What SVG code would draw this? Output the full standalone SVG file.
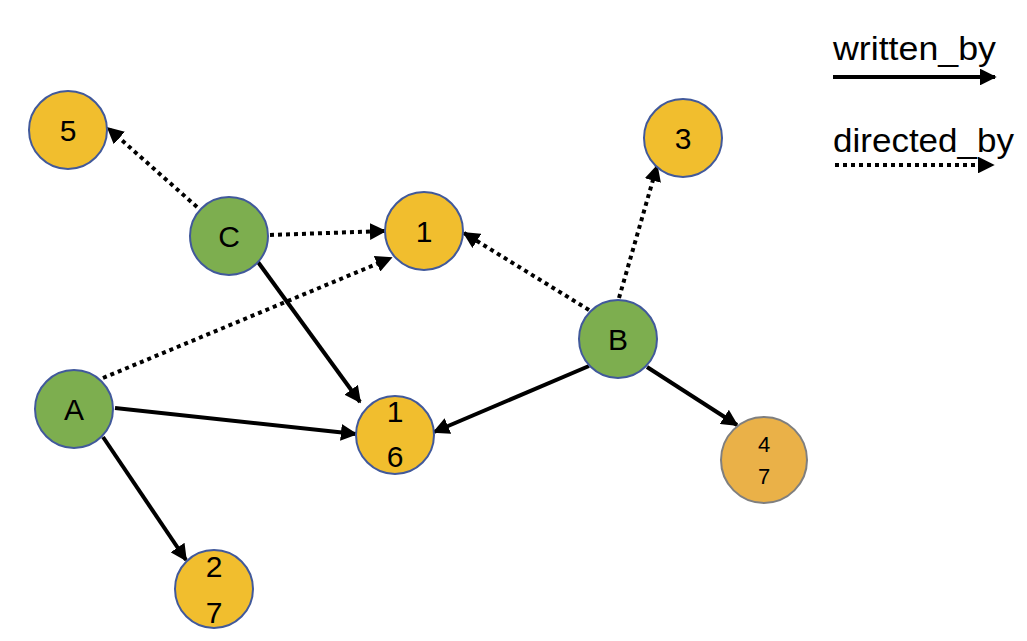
<svg xmlns="http://www.w3.org/2000/svg" width="1027" height="641" viewBox="0 0 1027 641">
<defs>
<style>
.y{fill:#F1BE2E;stroke:#41599B;stroke-width:2}
.g{fill:#7DAE4F;stroke:#41599B;stroke-width:2}
.o{fill:#EAB148;stroke:#7F7F7F;stroke-width:2}
.t{font-family:"Liberation Sans",Arial,sans-serif;font-size:30px;fill:#000;text-anchor:middle}
.s{stroke:#000;stroke-width:4;fill:none}
.d{stroke:#000;stroke-width:4;fill:none;stroke-dasharray:4 4}
</style>
<marker id="ah" viewBox="0 0 10 10" refX="9" refY="5" markerWidth="4.2" markerHeight="4.2" markerUnits="strokeWidth" orient="auto">
<path d="M0,0 L10,5 L0,10 z" fill="#000"/>
</marker>
</defs>
<rect width="1027" height="641" fill="#fff"/>
<g id="connectors">
<line class="d" x1="197" y1="207" x2="108" y2="128" marker-end="url(#ah)"/>
<line class="d" x1="270" y1="235" x2="385" y2="231" marker-end="url(#ah)"/>
<line class="d" x1="103" y1="378" x2="391" y2="258" marker-end="url(#ah)"/>
<line class="d" x1="589" y1="310" x2="464" y2="233" marker-end="url(#ah)"/>
<line class="d" x1="619" y1="298" x2="657" y2="166" marker-end="url(#ah)"/>
<line class="s" x1="258" y1="262" x2="360" y2="402" marker-end="url(#ah)"/>
<line class="s" x1="115" y1="408" x2="356" y2="434" marker-end="url(#ah)"/>
<line class="s" x1="589" y1="366" x2="434" y2="432" marker-end="url(#ah)"/>
<line class="s" x1="647" y1="367" x2="737" y2="425" marker-end="url(#ah)"/>
<line class="s" x1="103" y1="437" x2="186" y2="560" marker-end="url(#ah)"/>
</g>
<g id="legend">
<text x="833" y="60" font-family="'Liberation Sans',Arial,sans-serif" font-size="33" textLength="163" lengthAdjust="spacingAndGlyphs">written_by</text>
<line class="s" x1="833" y1="77" x2="995" y2="77" marker-end="url(#ah)"/>
<text x="833" y="152" font-family="'Liberation Sans',Arial,sans-serif" font-size="33" textLength="181" lengthAdjust="spacingAndGlyphs">directed_by</text>
<line class="d" x1="835" y1="165" x2="993" y2="165" marker-end="url(#ah)"/>
</g>
<g id="n5"><circle class="y" cx="68" cy="130" r="39"/><text class="t" x="68" y="141">5</text></g>
<g id="nC"><circle class="g" cx="229" cy="236" r="39"/><text class="t" x="229" y="247">C</text></g>
<g id="n1"><circle class="y" cx="424" cy="231" r="39"/><text class="t" x="424" y="242">1</text></g>
<g id="n3"><circle class="y" cx="683" cy="138" r="39"/><text class="t" x="683" y="149">3</text></g>
<g id="nB"><circle class="g" cx="618" cy="339" r="39"/><text class="t" x="618" y="350">B</text></g>
<g id="nA"><circle class="g" cx="74" cy="409" r="39"/><text class="t" x="74" y="420">A</text></g>
<g id="n16"><circle class="y" cx="395" cy="435" r="39"/><text class="t" x="395" y="422">1</text><text class="t" x="395" y="467">6</text></g>
<g id="n47"><circle class="o" cx="764" cy="460" r="43"/><text class="t" x="764" y="452" style="font-size:22px">4</text><text class="t" x="764" y="484" style="font-size:22px">7</text></g>
<g id="n27"><circle class="y" cx="214" cy="589" r="39"/><text class="t" x="214" y="577">2</text><text class="t" x="214" y="623">7</text></g>
</svg>
